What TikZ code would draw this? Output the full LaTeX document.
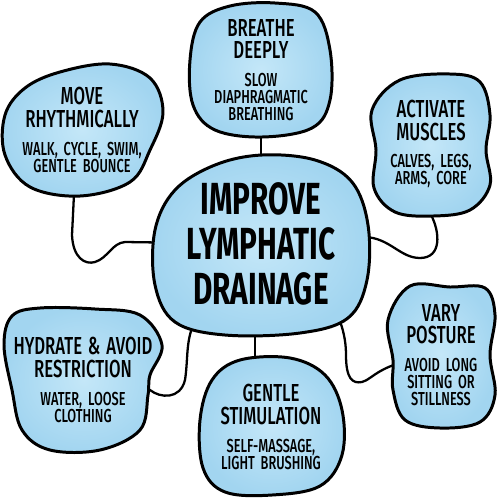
\documentclass[tikz,border=0pt]{standalone}
\usepackage{fontspec}
\setmainfont{Fira Sans}[FakeStretch=0.68, BoldFont={Fira Sans Medium}]
\newfontfamily\bigfont{Fira Sans}[FakeStretch=0.66]
\usepackage{xcolor}
\usetikzlibrary{positioning,backgrounds}

\definecolor{bluein}{RGB}{196,231,248}
\definecolor{blueout}{RGB}{162,213,240}
\newcommand{\bubtitle}{\fontsize{14}{13}\selectfont\bfseries}
\newcommand{\bubnote}{\fontsize{10.7}{9.7}\selectfont\bfseries}

\begin{document}
\begin{tikzpicture}[
	x=0.02cm, y=-0.02cm,
	bubble/.style={
		inner sep=0pt,
		align=center,
		anchor=center
	},
	blob/.style={             % the blue cloud around a text
		draw=black, line width=1.7pt,
		inner color=bluein, outer color=blueout
	},
	link/.style={             % black hand drawn line
		draw=black, line width=1.3pt,
		line cap=round, line join=round
	}
	]
	\useasboundingbox (0,0) rectangle (500,498);
	
	% --- CENTER ---
	\node[bubble, minimum width=4.32cm, minimum height=3.56cm, text width=4.2cm,
		font={\bigfont\fontsize{25.6}{25.6}\selectfont\bfseries}] (drain) at (261,244)
		{IMPROVE\\LYMPHATIC\\DRAINAGE};
	
	% --- BRANCHES ---
	\node[bubble, minimum width=2.84cm, minimum height=2.68cm, text width=2.7cm] (breathe) at (261,70)
		{{\bubtitle BREATHE\\DEEPLY\par}\vspace{6pt}{\bubnote SLOW\\DIAPHRAGMATIC\\BREATHING\par}};
	\node[bubble, minimum width=3.22cm, minimum height=2.62cm, text width=3.1cm] (move) at (82,130)
		{{\bubtitle MOVE\\RHYTHMICALLY\par}\vspace{6pt}{\bubnote WALK, CYCLE, SWIM,\\GENTLE BOUNCE\par}};
	\node[bubble, minimum width=2.36cm, minimum height=2.82cm, text width=2.3cm] (activate) at (431,144)
		{{\bubtitle ACTIVATE\\MUSCLES\par}\vspace{6pt}{\bubnote CALVES, LEGS,\\ARMS, CORE\par}};
	\node[bubble, minimum width=3.2cm, minimum height=2.9cm, text width=3.1cm] (hydrate) at (83,380)
		{{\bubtitle HYDRATE \& AVOID\\RESTRICTION\par}\vspace{6pt}{\bubnote WATER, LOOSE\\CLOTHING\par}};
	\node[bubble, minimum width=2.86cm, minimum height=2.8cm, text width=2.8cm] (gentle) at (271,427)
		{{\bubtitle GENTLE\\STIMULATION\par}\vspace{6pt}{\bubnote SELF-MASSAGE,\\LIGHT BRUSHING\par}};
	\node[bubble, minimum width=2.16cm, minimum height=2.9cm, text width=2.1cm] (vary) at (441,355)
		{{\bubtitle VARY\\POSTURE\par}\vspace{6pt}{\bubnote AVOID LONG\\SITTING OR\\STILLNESS\par}};
	
	\begin{scope}[on background layer]
		% links first, the blobs hide their ends
		\draw[link] (breathe) -- (drain);
		\draw[link] (move.263) -- (72,235) .. controls (73,258) and (85,265) .. (95,262)
			.. controls (108,258) and (112,243) .. (125,242) -- (drain.center);
		\draw[link] (activate.south) .. controls (440,232) and (442,258) .. (420,258)
			.. controls (400,258) and (390,238) .. (365,237) -- (drain.center);
		\draw[link] (hydrate.center) -- (150,390) .. controls (160,398) and (180,400) .. (185,380)
			.. controls (188,360) and (186,345) .. (192,328) -- (drain.center);
		\draw[link] (drain.266) -- (drain.266 |- gentle.north);
		\draw[link] (drain.center) -- (332,305) .. controls (340,318) and (346,335) .. (346,355)
			.. controls (346,378) and (352,384) .. (362,382)
			.. controls (374,379) and (378,362) .. (vary.center);
		
		% blobs
		\draw[blob] plot[smooth cycle, tension=0.6] coordinates {
			(262,155) (315,160) (352,182) (368,225) (367,280) (348,318) (300,333)
			(225,335) (175,322) (155,285) (155,230) (175,190) (215,165)};
		\draw[blob] plot[smooth cycle, tension=0.6] coordinates {
			(230,6) (275,3) (315,12) (330,50) (330,100) (312,128) (262,137)
			(215,130) (193,105) (190,60) (200,22)};
		\draw[blob] plot[smooth cycle, tension=0.6] coordinates {
			(60,72) (110,64) (150,78) (163,112) (150,150) (130,182) (80,196)
			(30,187) (5,155) (5,115) (25,88)};
		\draw[blob] plot[smooth cycle, tension=0.6] coordinates {
			(400,80) (450,74) (480,82) (490,115) (486,150) (490,185) (470,210)
			(433,216) (395,212) (374,188) (376,150) (372,110)};
		\draw[blob] plot[smooth cycle, tension=0.6] coordinates {
			(40,308) (95,309) (140,315) (162,345) (150,375) (148,395) (140,430)
			(100,450) (50,450) (22,430) (12,390) (4,345) (12,316)};
		\draw[blob] plot[smooth cycle, tension=0.6] coordinates {
			(240,360) (290,358) (325,375) (342,410) (342,455) (320,486) (272,495)
			(225,492) (203,468) (200,420) (212,380)};
		\draw[blob] plot[smooth cycle, tension=0.6] coordinates {
			(410,286) (450,287) (485,288) (495,315) (490,355) (495,395) (480,422)
			(440,428) (405,420) (393,390) (393,360) (388,320)};
	\end{scope}
	
\end{tikzpicture}
\end{document}
